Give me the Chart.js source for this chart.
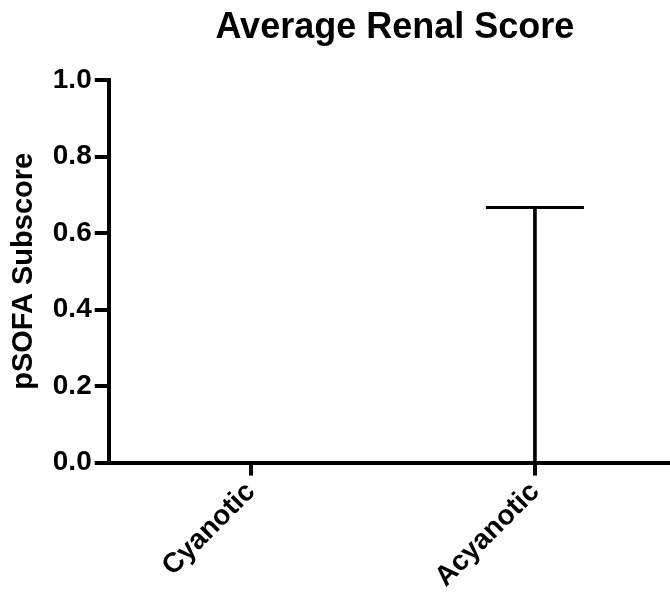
<!DOCTYPE html>
<html>
<head>
<meta charset="utf-8">
<script src="https://cdn.jsdelivr.net/npm/chart.js@4/dist/chart.umd.min.js"></script>
<style>
  html, body { margin: 0; padding: 0; background: #fff; overflow: hidden; }
  #wrap { width: 670px; height: 596px; overflow: hidden; }
</style>
</head>
<body>
<div id="wrap"><canvas id="renal" width="729" height="596"></canvas></div>
<script>
// Datos
const groups = ['Cyanotic', 'Acyanotic'];
const groupMeans = [0, 0];
const upperWhisker = [0, 0.667];
const yTickLabels = ['0.0', '0.2', '0.4', '0.6', '0.8', '1.0'];

const FONT = "'Liberation Sans', Arial, Helvetica, sans-serif";

// titulo centrado sobre el area del grafico
const centeredTitle = {
  id: 'centeredTitle',
  afterDraw(chart) {
    const { ctx, chartArea } = chart;
    ctx.save();
    ctx.font = 'bold 36px ' + FONT;
    ctx.fillStyle = '#000';
    ctx.textAlign = 'center';
    ctx.textBaseline = 'alphabetic';
    ctx.fillText('Average Renal Score', (chartArea.left + chartArea.right) / 2 + 2, 38);
    ctx.restore();
  }
};

const ctx = document.getElementById('renal').getContext('2d');
new Chart(ctx, {
  data: {
    labels: groups,
    datasets: [
      {
        type: 'bar',
        label: 'whisker',
        // linea vertical desde la media hasta el extremo superior
        data: groups.map((g, i) => [groupMeans[i], upperWhisker[i]]),
        backgroundColor: '#000',
        borderWidth: 0,
        barThickness: 3,
      },
      {
        type: 'line',
        label: 'cap',
        data: upperWhisker.map(v => (v > 0 ? v : null)),
        showLine: false,
        pointStyle: 'line',
        pointRadius: 49,
        pointHoverRadius: 49,
        pointBorderWidth: 3,
        pointBorderColor: '#000',
        borderColor: '#000',
      },
    ],
  },
  options: {
    responsive: false,
    animation: false,
    layout: { padding: { top: 80, left: 7, right: 0, bottom: 2 } },
    plugins: {
      legend: { display: false },
      tooltip: { enabled: false },
      title: { display: false },
    },
    scales: {
      x: {
        type: 'category',
        offset: true,
        grid: {
          offset: false,
          drawOnChartArea: false,
          tickLength: 13,
          lineWidth: 4,
          color: '#000',
        },
        border: { color: '#000', width: 4 },
        ticks: {
          color: '#000',
          font: { family: FONT, size: 28, weight: 'bold' },
          minRotation: 45,
          maxRotation: 45,
          padding: 0,
        },
      },
      y: {
        min: 0,
        max: 1,
        grid: {
          drawOnChartArea: false,
          tickLength: 14,
          lineWidth: 4,
          color: '#000',
        },
        border: { color: '#000', width: 4 },
        ticks: {
          stepSize: 0.2,
          color: '#000',
          font: { family: FONT, size: 28, weight: 'bold' },
          padding: 3,
          callback: (value) => yTickLabels[Math.round(value * 5)],
        },
        title: {
          display: true,
          text: 'pSOFA Subscore',
          color: '#000',
          font: { family: FONT, size: 29, weight: 'bold' },
          padding: { top: 0, bottom: 8 },
        },
      },
    },
  },
  plugins: [centeredTitle],
});
</script>
</body>
</html>
